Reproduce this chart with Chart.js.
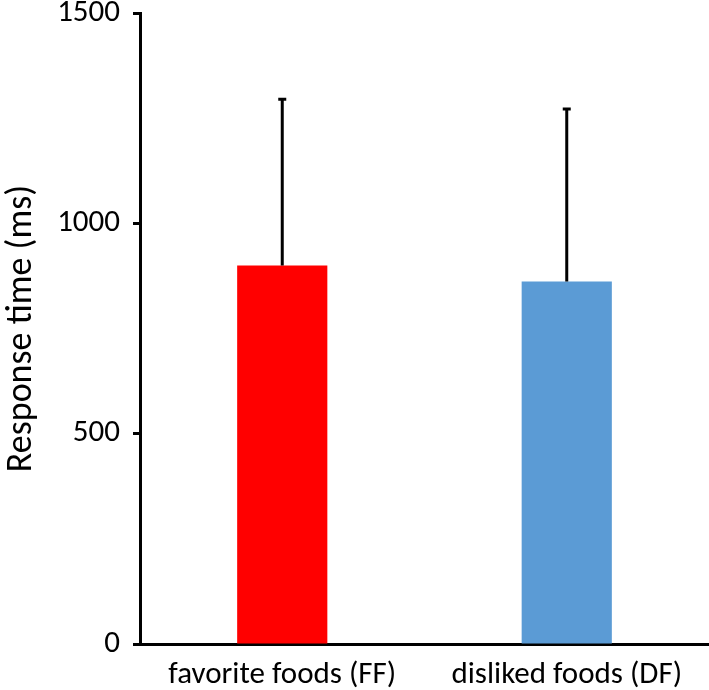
<!DOCTYPE html>
<html>
<head>
<meta charset="utf-8">
<script src="https://cdn.jsdelivr.net/npm/chart.js@4"></script>
<style>
  body { margin: 0; background: #fff; }
  .bar-chart { width: 709px; height: 690px; position: relative; }
</style>
</head>
<body>
<div class="bar-chart"><canvas id="chart"></canvas></div>
<script>
  var categories = ["favorite foods (FF)", "disliked foods (DF)"];
  var responseTimes = [900, 862];
  var errorUp = [395, 410];
  var barColors = ["#ff0000", "#5b9bd5"];
  var yTicks = [0, 500, 1000, 1500];

  var fontFamily = "Carlito, 'Open Sans', sans-serif";

  // error bars drawn upward from each bar top, like the original figure
  const errorBars = {
    id: "errorBars",
    afterDatasetsDraw(chart) {
      const ctx = chart.ctx;
      const meta = chart.getDatasetMeta(0);
      const yScale = chart.scales.y;
      ctx.save();
      ctx.strokeStyle = "#000";
      ctx.lineWidth = 3;
      meta.data.forEach((bar, i) => {
        const yTop = yScale.getPixelForValue(responseTimes[i] + errorUp[i]);
        ctx.beginPath();
        ctx.moveTo(bar.x, bar.y);
        ctx.lineTo(bar.x, yTop);
        ctx.moveTo(bar.x - 4, yTop);
        ctx.lineTo(bar.x + 4, yTop);
        ctx.stroke();
      });
      ctx.restore();
    }
  };

  new Chart(document.getElementById("chart"), {
    type: "bar",
    data: {
      labels: categories,
      datasets: [
        {
          data: responseTimes,
          backgroundColor: barColors,
          borderWidth: 0,
          categoryPercentage: 1,
          barPercentage: 0.317,
        },
      ],
    },
    options: {
      responsive: true,
      maintainAspectRatio: false,
      animation: false,
      layout: { padding: 0 },
      plugins: {
        legend: { display: false },
        tooltip: { enabled: false },
      },
      scales: {
        x: {
          grid: { display: true, drawOnChartArea: false, tickLength: 0, color: "rgba(0,0,0,0)" },
          border: { display: true, color: "#000", width: 3 },
          ticks: {
            color: "#000",
            padding: 13,
            font: { family: fontFamily, size: 31 },
          },
          afterFit(scale) { scale.height = 46; },
        },
        y: {
          min: 0,
          max: 1500,
          afterBuildTicks(scale) {
            scale.ticks = yTicks.map(v => ({ value: v }));
          },
          grid: { display: true, drawOnChartArea: false, tickLength: 7, tickWidth: 3, tickColor: "#000" },
          border: { display: true, color: "#000", width: 3 },
          ticks: {
            color: "#000",
            padding: 13,
            font: { family: fontFamily, size: 31 },
            callback: v => String(v),
          },
          title: {
            display: true,
            text: "Response time (ms)",
            color: "#000",
            font: { family: fontFamily, size: 36 },
            padding: 0,
          },
          afterFit(scale) {
            scale.width = 140;
            scale.paddingTop = 13;
            scale.paddingBottom = 0;
          },
        },
      },
    },
    plugins: [errorBars],
  });
</script>
</body>
</html>
